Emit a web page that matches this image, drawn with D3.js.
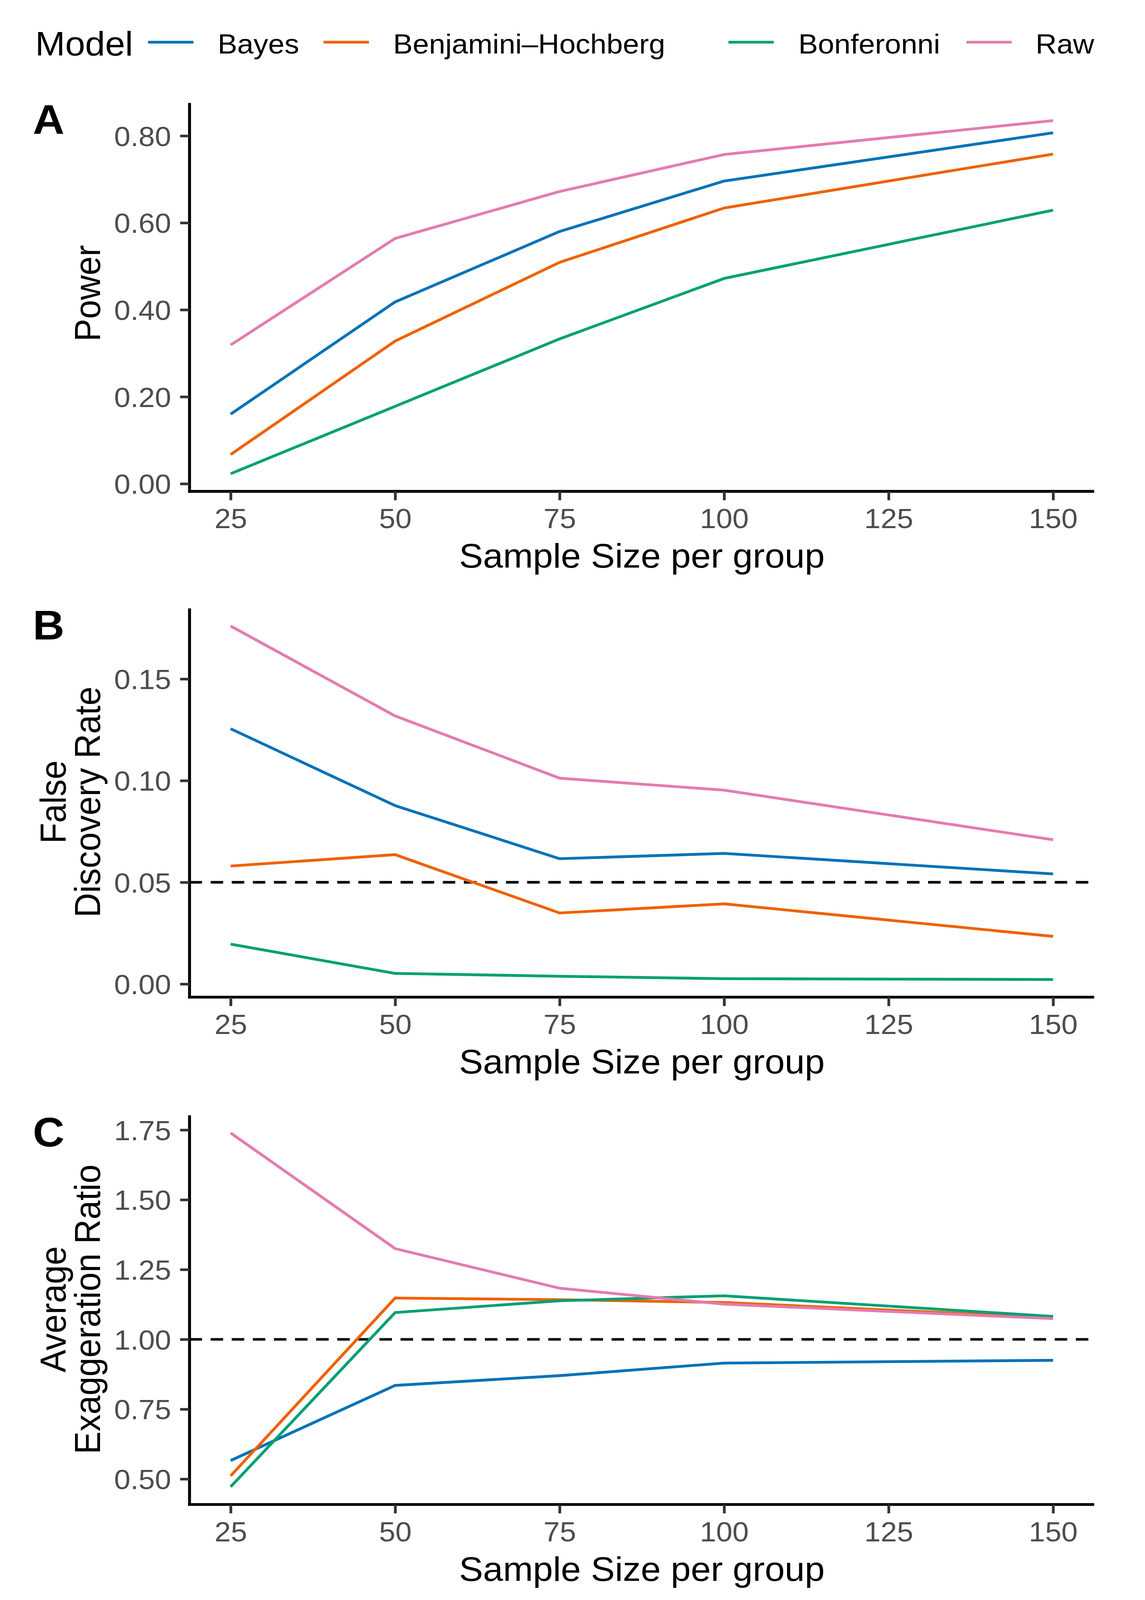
<!DOCTYPE html>
<html>
<head>
<meta charset="utf-8">
<script src="https://cdn.jsdelivr.net/npm/d3@7"></script>
<style>
  html, body { margin: 0; padding: 0; background: #ffffff; overflow: hidden; }
  svg { display: block; }
  text { font-family: "Liberation Sans", Arial, sans-serif; }
</style>
</head>
<body>
<script>
// ---------------- DATA ----------------
const sampleSizes = [25, 50, 75, 100, 150];
const xTicks = [25, 50, 75, 100, 125, 150];
const modelNames = ["Bayes", "Benjamini\u2013Hochberg", "Bonferonni", "Raw"];

const powerBayes = [0.160, 0.418, 0.580, 0.696, 0.807];
const powerBH    = [0.067, 0.328, 0.509, 0.634, 0.758];
const powerBonf  = [0.023, 0.178, 0.333, 0.472, 0.629];
const powerRaw   = [0.319, 0.564, 0.672, 0.757, 0.835];

const fdrBayes = [0.1255, 0.0877, 0.0616, 0.0642, 0.0541];
const fdrBH    = [0.0580, 0.0636, 0.0349, 0.0394, 0.0234];
const fdrBonf  = [0.0196, 0.0052, 0.0038, 0.0026, 0.0022];
const fdrRaw   = [0.1760, 0.1318, 0.1012, 0.0953, 0.0709];

const aerBayes = [0.566, 0.835, 0.870, 0.915, 0.925];
const aerBH    = [0.511, 1.148, 1.142, 1.132, 1.078];
const aerBonf  = [0.472, 1.096, 1.138, 1.156, 1.082];
const aerRaw   = [1.739, 1.325, 1.183, 1.126, 1.074];

const powerTicks = [0, 0.2, 0.4, 0.6, 0.8];
const fdrTicks   = [0, 0.05, 0.10, 0.15];
const aerTicks   = [0.50, 0.75, 1.00, 1.25, 1.50, 1.75];

const fdrReference = 0.05;
const aerReference = 1.00;

const panelTags = ["A", "B", "C"];
const yTitles = [["Power"], ["False", "Discovery Rate"], ["Average", "Exaggeration Ratio"]];
const xTitle = "Sample Size per group";
const legendTitle = "Model";

// ---------------- STYLE / LAYOUT ----------------
const W = 2930, H = 4321;
const modelColors = ["#0072B8", "#EE6200", "#00A074", "#E37CB0"];
const left = 485, right = 2800;
const panelBoxes = [
  { top: 278,  bottom: 1327, titleY: 792 },
  { top: 1643, bottom: 2693, titleY: 2166 },
  { top: 3012, bottom: 4063, titleY: 3536 }
];

const panels = [
  { series: [powerBayes, powerBH, powerBonf, powerRaw], ticks: powerTicks, ref: null },
  { series: [fdrBayes, fdrBH, fdrBonf, fdrRaw], ticks: fdrTicks, ref: fdrReference },
  { series: [aerBayes, aerBH, aerBonf, aerRaw], ticks: aerTicks, ref: aerReference }
];

// fit the full drawing into whatever viewport is actually available
const vw = window.innerWidth || W;
const vh = window.innerHeight || H;

const svg = d3.select("body").append("svg")
  .attr("width", vw).attr("height", vh)
  .attr("viewBox", `0 0 ${W} ${H}`)
  .attr("preserveAspectRatio", "none");
svg.append("rect").attr("width", W).attr("height", H).attr("fill", "#ffffff");

// x scale with ggplot-like 5% expansion
const xExt = d3.extent(sampleSizes);
const xPad = (xExt[1] - xExt[0]) * 0.05;
const x = d3.scaleLinear().domain([xExt[0] - xPad, xExt[1] + xPad]).range([left, right]);

const fmt2 = d3.format(".2f");
const lineW = 7.5, axisW = 7.5, tickW = 7;

panels.forEach((p, i) => {
  const box = panelBoxes[i];
  const all = p.series.flat();
  const ext = d3.extent(all);
  const pad = (ext[1] - ext[0]) * 0.05;
  const y = d3.scaleLinear().domain([ext[0] - pad, ext[1] + pad]).range([box.bottom, box.top]);

  const g = svg.append("g");

  // reference line
  if (p.ref !== null) {
    g.append("line")
      .attr("x1", left).attr("x2", right)
      .attr("y1", y(p.ref)).attr("y2", y(p.ref))
      .attr("stroke", "#000").attr("stroke-width", 7)
      .attr("stroke-dasharray", "32,22");
  }

  // series lines
  const line = d3.line().x((d, j) => x(sampleSizes[j])).y(d => y(d));
  p.series.forEach((s, k) => {
    g.append("path")
      .attr("d", line(s))
      .attr("fill", "none")
      .attr("stroke", modelColors[k])
      .attr("stroke-width", lineW)
      .attr("stroke-linejoin", "round");
  });

  // y axis
  const yAxis = d3.axisLeft(y).tickValues(p.ticks).tickFormat(fmt2)
    .tickSize(24).tickPadding(23).tickSizeOuter(0);
  const ya = g.append("g").attr("transform", `translate(${left},0)`).call(yAxis);
  ya.select(".domain").attr("stroke", "#000").attr("stroke-width", axisW)
    .attr("d", `M0,${box.top}V${box.bottom + axisW / 2}`);
  ya.selectAll(".tick line").attr("stroke", "#333333").attr("stroke-width", tickW);
  ya.selectAll(".tick text").attr("fill", "#4D4D4D").attr("font-size", 75)
    .attr("font-family", "Liberation Sans, Arial, sans-serif").attr("dy", "0.36em");

  // x axis
  const xAxis = d3.axisBottom(x).tickValues(xTicks).tickFormat(d3.format("d"))
    .tickSize(24).tickPadding(22).tickSizeOuter(0);
  const xa = g.append("g").attr("transform", `translate(0,${box.bottom})`).call(xAxis);
  xa.select(".domain").attr("stroke", "#000").attr("stroke-width", axisW)
    .attr("d", `M${left - axisW / 2},0H${right}`);
  xa.selectAll(".tick line").attr("stroke", "#333333").attr("stroke-width", tickW);
  xa.selectAll(".tick text").attr("fill", "#4D4D4D").attr("font-size", 75)
    .attr("font-family", "Liberation Sans, Arial, sans-serif");

  // x title
  g.append("text")
    .attr("x", (left + right) / 2).attr("y", box.bottom + 206)
    .attr("text-anchor", "middle").attr("font-size", 92).attr("fill", "#000")
    .text(xTitle);

  // y title (possibly two lines)
  const cy = box.titleY;
  const lines = yTitles[i];
  const lastBase = 256, lineGap = 88;
  lines.forEach((t, li) => {
    const bx = lastBase - (lines.length - 1 - li) * lineGap;
    g.append("text")
      .attr("transform", `translate(${bx},${cy}) rotate(-90)`)
      .attr("text-anchor", "middle").attr("font-size", 92).attr("fill", "#000")
      .text(t);
  });

  // panel tag
  g.append("text")
    .attr("x", 84).attr("y", box.top + 84)
    .attr("font-size", 112).attr("font-weight", "bold").attr("fill", "#000")
    .text(panelTags[i]);
});

// ---------------- LEGEND ----------------
const legend = svg.append("g");
legend.append("text").attr("x", 90).attr("y", 150)
  .attr("font-size", 92).attr("fill", "#000").text(legendTitle);
const keyX = [379, 828, 1864, 2473];
const labelX = [557, 1006, 2043, 2650];
modelNames.forEach((m, k) => {
  legend.append("line")
    .attr("x1", keyX[k]).attr("x2", keyX[k] + 116)
    .attr("y1", 114).attr("y2", 114)
    .attr("stroke", modelColors[k]).attr("stroke-width", lineW);
  legend.append("text")
    .attr("x", labelX[k]).attr("y", 145)
    .attr("font-size", 75).attr("fill", "#000").text(m);
});
</script>
</body>
</html>
